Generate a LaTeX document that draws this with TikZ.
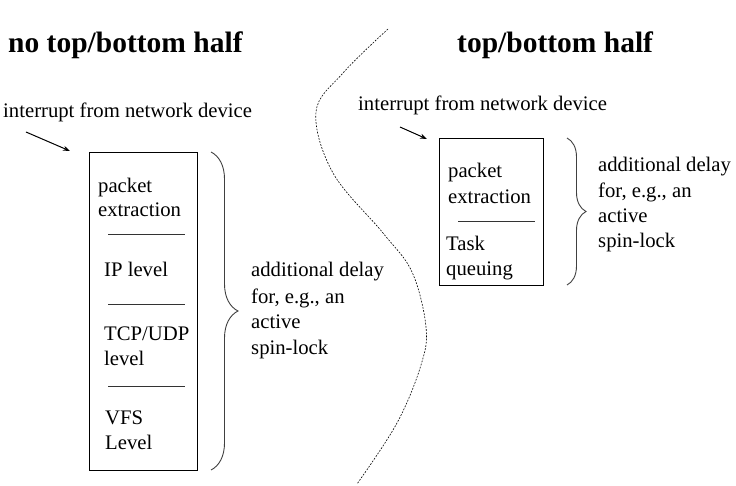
\documentclass[tikz,border=0pt]{standalone}
\usepackage{fontspec}
\setmainfont{Liberation Serif}
\usetikzlibrary{decorations.pathreplacing,arrows.meta}
\begin{document}
\begin{tikzpicture}[x=1pt,y=-1pt,
  txt/.style={anchor=base west,inner sep=0pt,font=\fontsize{20.7}{24}\selectfont},
  ttl/.style={anchor=base west,inner sep=0pt,font=\fontsize{29.5}{34}\selectfont\bfseries},
  boxx/.style={draw,line width=1.3pt,inner sep=0pt,anchor=north west},
  sepline/.style={line width=0.9pt,black!80},
  brc/.style={line width=0.9pt,black!75,decorate,decoration={brace,amplitude=#1}},
  arr/.style={-{Stealth[length=7pt,width=5pt]},line width=1pt},
  divline/.style={line width=0.6pt,dash pattern=on 1.8pt off 1.4pt}]
\useasboundingbox (0,0) rectangle (736,486);

% titles
\node[ttl] (t1) at (8,53) {no top/bottom half};
\node[ttl] (t2) at (457,53) {top/bottom half};

% dividing curve
\draw[divline] plot[smooth,tension=0.6] coordinates {(388,29) (343,73) (316,112) (333,173) (383,233) (412,272) (426,327) (421,365) (397,423) (357,484)};

% left side
\node[txt] (li) at (3,118) {interrupt from network device};
\coordinate (la1) at (26,132);
\coordinate (la2) at (70,151);
\draw[arr] (la1) -- (la2);
\node[boxx, minimum width=108pt, minimum height=318pt] (lbox) at (89,152) {};
\node[txt] (l1) at (98,193) {packet};
\node[txt] (l2) at (98,217) {extraction};
\draw[sepline] (108,234) -- (185,234);
\node[txt] (l3) at (104,277) {IP level};
\draw[sepline] (108,304) -- (185,304);
\node[txt] (l4) at (104,340) {TCP/UDP};
\node[txt] (l5) at (104,365) {level};
\draw[sepline] (108,386) -- (185,386);
\node[txt] (l6) at (105,424) {VFS};
\node[txt] (l7) at (105,449) {Level};
\coordinate (lb1) at (211,152);
\coordinate (lb2) at (211,470);
\draw[brc=27] (lb1) -- (lb2);
\node[txt] (ld1) at (251,277) {additional delay};
\node[txt] (ld2) at (251,303) {for, e.g., an};
\node[txt] (ld3) at (251,328) {active};
\node[txt] (ld4) at (251,354) {spin-lock};

% right side
\node[txt] (ri) at (358,111) {interrupt from network device};
\coordinate (ra1) at (400,127);
\coordinate (ra2) at (427,139);
\draw[arr] (ra1) -- (ra2);
\node[boxx, minimum width=104pt, minimum height=147pt] (rbox) at (439,138) {};
\node[txt] (r1) at (448,178) {packet};
\node[txt] (r2) at (448,204) {extraction};
\draw[sepline] (458,221) -- (535,221);
\node[txt] (r3) at (446,251) {Task};
\node[txt] (r4) at (446,276) {queuing};
\coordinate (rb1) at (567,138);
\coordinate (rb2) at (567,285);
\draw[brc=19] (rb1) -- (rb2);
\node[txt] (rd1) at (598,172) {additional delay};
\node[txt] (rd2) at (598,198) {for, e.g., an};
\node[txt] (rd3) at (598,223) {active};
\node[txt] (rd4) at (598,248) {spin-lock};
\end{tikzpicture}
\end{document}
